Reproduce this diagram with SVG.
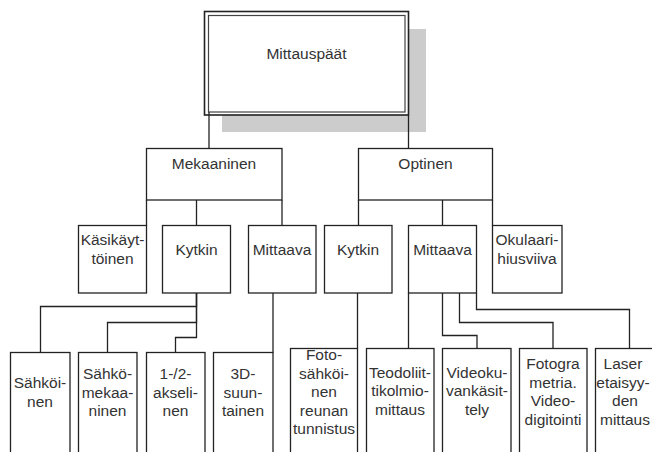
<svg xmlns="http://www.w3.org/2000/svg" width="652" height="452" viewBox="0 0 652 452">
<style>
.box{fill:#fff;stroke:#222;stroke-width:1.3}
.t{font-family:"Liberation Sans",Arial,sans-serif;font-size:15.5px;fill:#333;text-anchor:middle}
.c{fill:none;stroke:#222;stroke-width:1.3}
</style>
<rect x="0" y="0" width="652" height="452" fill="#fff"/>
<g id="n-mittauspaat">
<rect x="222" y="29" width="204" height="103" fill="#cccccc"/>
<rect x="204.5" y="11.5" width="204" height="103.5" fill="#fff" stroke="#222" stroke-width="1.6"/>
<rect x="208.5" y="15.5" width="196.5" height="96.5" fill="none" stroke="#444" stroke-width="1.2"/>
<text class="t" x="306.5" y="59">Mittauspäät</text>
</g>
<g id="connectors">
<path class="c" d="M209 112V148.5"/>
<path class="c" d="M408.5 115V148.5"/>
<path class="c" d="M146.5 200V225.5"/>
<path class="c" d="M196.5 200V225.5"/>
<path class="c" d="M282 200V225.5"/>
<path class="c" d="M358.5 200V225.5"/>
<path class="c" d="M442.5 200V225.5"/>
<path class="c" d="M492.5 200V225.5"/>
<path class="c" d="M196.5 293V306.5H40.5V352.5"/>
<path class="c" d="M196.5 293V322.5H107.5V352.5"/>
<path class="c" d="M196.5 293V337.5H175.5V352.5"/>
<path class="c" d="M273 293V352.5"/>
<path class="c" d="M357.5 293V348.5"/>
<path class="c" d="M408.5 293V348.5"/>
<path class="c" d="M442.5 293V335.5H477V348.5"/>
<path class="c" d="M459.5 293V322.5H553V348.5"/>
<path class="c" d="M476.5 293V309.5H629.5V348.5"/>
</g>
<g id="n-mekaaninen">
<rect class="box" x="146.5" y="148.5" width="135.5" height="51.5"/>
<text class="t" x="214" y="169">Mekaaninen</text>
</g>
<g id="n-optinen">
<rect class="box" x="358.5" y="148.5" width="134" height="51.5"/>
<text class="t" x="425.5" y="169">Optinen</text>
</g>
<g id="n-kasikayttoinen">
<rect class="box" x="78.5" y="225.5" width="68" height="67.5"/>
<text class="t" x="112.5" y="244.5">Käsikäyt-</text>
<text class="t" x="112.5" y="263.5">töinen</text>
</g>
<g id="n-kytkin-m">
<rect class="box" x="162.5" y="225.5" width="68" height="67.5"/>
<text class="t" x="196.5" y="254.5">Kytkin</text>
</g>
<g id="n-mittaava-m">
<rect class="box" x="248.5" y="225.5" width="67.5" height="67.5"/>
<text class="t" x="282" y="254.5">Mittaava</text>
</g>
<g id="n-kytkin-o">
<rect class="box" x="324.5" y="225.5" width="67.5" height="67.5"/>
<text class="t" x="358" y="254.5">Kytkin</text>
</g>
<g id="n-mittaava-o">
<rect class="box" x="408.5" y="225.5" width="68" height="67.5"/>
<text class="t" x="442.5" y="254.5">Mittaava</text>
</g>
<g id="n-okulaari">
<rect class="box" x="492.5" y="225.5" width="69.5" height="67.5"/>
<text class="t" x="527" y="244.5">Okulaari-</text>
<text class="t" x="527" y="263.5">hiusviiva</text>
</g>
<g id="n-sahkoinen">
<rect class="box" x="10.5" y="352.5" width="59.5" height="110"/>
<text class="t" x="40" y="388">Sähköi-</text>
<text class="t" x="40" y="406.5">nen</text>
</g>
<g id="n-sahkomekaaninen">
<rect class="box" x="78.5" y="352.5" width="58.5" height="110"/>
<text class="t" x="107.5" y="379">Sähkö-</text>
<text class="t" x="107.5" y="397.5">mekaa-</text>
<text class="t" x="107.5" y="416">ninen</text>
</g>
<g id="n-akselinen">
<rect class="box" x="146.5" y="352.5" width="58.5" height="110"/>
<text class="t" x="175.5" y="379">1-/2-</text>
<text class="t" x="175.5" y="397.5">akseli-</text>
<text class="t" x="175.5" y="416">nen</text>
</g>
<g id="n-3d">
<rect class="box" x="213.5" y="352.5" width="59.5" height="110"/>
<text class="t" x="243" y="379">3D-</text>
<text class="t" x="243" y="397.5">suun-</text>
<text class="t" x="243" y="416">tainen</text>
</g>
<g id="n-fotosahkoinen">
<rect class="box" x="290.5" y="348.5" width="67" height="110"/>
<text class="t" x="324" y="360">Foto-</text>
<text class="t" x="324" y="378.5">sähköi-</text>
<text class="t" x="324" y="397">nen</text>
<text class="t" x="324" y="415.5">reunan</text>
<text class="t" x="324" y="434">tunnistus</text>
</g>
<g id="n-teodoliitti">
<rect class="box" x="366.5" y="348.5" width="67.5" height="110"/>
<text class="t" x="400" y="377.5">Teodoliit-</text>
<text class="t" x="400" y="396">tikolmio-</text>
<text class="t" x="400" y="414.5">mittaus</text>
</g>
<g id="n-videokuva">
<rect class="box" x="442.5" y="348.5" width="68.5" height="110"/>
<text class="t" x="477" y="377.5">Videoku-</text>
<text class="t" x="477" y="396">vankäsit-</text>
<text class="t" x="477" y="414.5">tely</text>
</g>
<g id="n-fotogrammetria">
<rect class="box" x="519.5" y="348.5" width="67.5" height="110"/>
<text class="t" x="553" y="369">Fotogra</text>
<text class="t" x="553" y="387.5">metria.</text>
<text class="t" x="553" y="406">Video-</text>
<text class="t" x="553" y="424.5">digitointi</text>
</g>
<g id="n-laser">
<rect class="box" x="595.5" y="348.5" width="68" height="110"/>
<text class="t" x="623" y="369">Laser</text>
<text class="t" x="623" y="387.5">etaisyy-</text>
<text class="t" x="625" y="406">den</text>
<text class="t" x="625" y="424.5">mittaus</text>
</g>
</svg>
